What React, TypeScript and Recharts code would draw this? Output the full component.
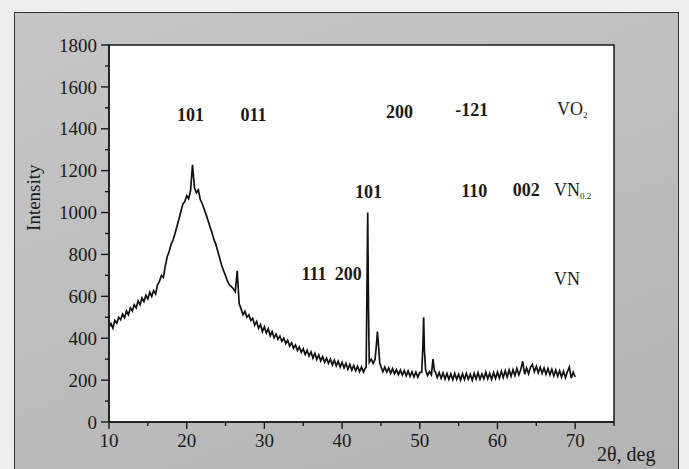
import React from "react";
import {
  CartesianGrid,
  Line,
  LineChart,
  ReferenceArea,
  ReferenceDot,
  XAxis,
  YAxis,
} from "recharts";

// XRD scan: [2theta (deg), intensity]
const xrdScan: [number, number][] = [
  [10, 452], [10.25, 470], [10.5, 448], [10.75, 485], [11, 472], [11.25, 500],
  [11.5, 488], [11.75, 515], [12, 498], [12.25, 530], [12.5, 512], [12.75, 545],
  [13, 530], [13.25, 560], [13.5, 545], [13.75, 578], [14, 560], [14.25, 592],
  [14.5, 575], [14.75, 605], [15, 588], [15.25, 620], [15.5, 600], [15.75, 628],
  [16, 612], [16.25, 655], [16.5, 672], [16.75, 700], [17, 690], [17.25, 745],
  [17.5, 790], [17.75, 815], [18, 848], [18.25, 870], [18.5, 900], [18.75, 935],
  [19, 968], [19.25, 1005], [19.5, 1040], [19.75, 1052], [20, 1080], [20.25, 1066],
  [20.5, 1105], [20.75, 1228], [21, 1118], [21.25, 1095], [21.5, 1108], [21.75, 1062],
  [22, 1042], [22.25, 1016], [22.5, 990], [22.75, 962], [23, 932], [23.25, 905],
  [23.5, 872], [23.75, 848], [24, 815], [24.25, 782], [24.5, 748], [24.75, 722],
  [25, 698], [25.25, 672], [25.5, 655], [25.75, 646], [26, 636], [26.25, 622],
  [26.5, 722], [26.75, 565], [27, 540], [27.25, 512], [27.5, 528], [27.75, 500],
  [28, 512], [28.25, 485], [28.5, 495], [28.75, 462], [29, 480], [29.25, 448],
  [29.5, 465], [29.75, 432], [30, 455], [30.25, 425], [30.5, 445], [30.75, 412],
  [31, 432], [31.25, 402], [31.5, 420], [31.75, 395], [32, 410], [32.25, 385],
  [32.5, 400], [32.75, 375], [33, 390], [33.25, 362], [33.5, 378], [33.75, 352],
  [34, 368], [34.25, 342], [34.5, 358], [34.75, 332], [35, 350], [35.25, 322],
  [35.5, 342], [35.75, 315], [36, 335], [36.25, 305], [36.5, 328], [36.75, 298],
  [37, 320], [37.25, 292], [37.5, 312], [37.75, 285], [38, 305], [38.25, 280],
  [38.5, 300], [38.75, 272], [39, 295], [39.25, 268], [39.5, 290], [39.75, 262],
  [40, 285], [40.25, 258], [40.5, 280], [40.75, 252], [41, 275], [41.25, 248],
  [41.5, 270], [41.75, 245], [42, 266], [42.25, 240], [42.5, 262], [42.75, 238],
  [43, 258], [43.1, 262], [43.2, 620], [43.3, 1000], [43.4, 540], [43.5, 285],
  [43.75, 300], [44, 280], [44.25, 300], [44.4, 360], [44.55, 432], [44.7, 360],
  [44.85, 280], [45, 265], [45.25, 240], [45.5, 262], [45.75, 238], [46, 258],
  [46.25, 232], [46.5, 255], [46.75, 230], [47, 250], [47.25, 226], [47.5, 248],
  [47.75, 224], [48, 246], [48.25, 220], [48.5, 244], [48.75, 218], [49, 240],
  [49.25, 215], [49.5, 238], [49.75, 214], [50, 236], [50.25, 238], [50.4, 360],
  [50.5, 500], [50.6, 340], [50.75, 250], [51, 222], [51.25, 240], [51.5, 225],
  [51.7, 300], [51.9, 242], [52, 240], [52.25, 212], [52.5, 236], [52.75, 208],
  [53, 234], [53.25, 205], [53.5, 232], [53.75, 204], [54, 230], [54.25, 202],
  [54.5, 232], [54.75, 204], [55, 228], [55.25, 200], [55.5, 230], [55.75, 203],
  [56, 232], [56.25, 204], [56.5, 228], [56.75, 200], [57, 232], [57.25, 205],
  [57.5, 235], [57.75, 204], [58, 230], [58.25, 206], [58.5, 238], [58.75, 206],
  [59, 232], [59.25, 204], [59.5, 236], [59.75, 208], [60, 238], [60.25, 210],
  [60.5, 242], [60.75, 212], [61, 245], [61.25, 215], [61.5, 248], [61.75, 218],
  [62, 250], [62.25, 222], [62.5, 255], [62.75, 225], [63, 250], [63.25, 290],
  [63.5, 228], [63.75, 258], [64, 230], [64.25, 262], [64.5, 275], [64.75, 240],
  [65, 265], [65.25, 235], [65.5, 262], [65.75, 232], [66, 258], [66.25, 228],
  [66.5, 255], [66.75, 225], [67, 252], [67.25, 220], [67.5, 248], [67.75, 218],
  [68, 245], [68.25, 215], [68.5, 242], [68.75, 212], [69, 240], [69.25, 262],
  [69.5, 210], [69.75, 238], [70, 215],
];

const xTicks = [10, 15, 20, 25, 30, 35, 40, 45, 50, 55, 60, 65, 70, 75];
const yTicks = [
  0, 100, 200, 300, 400, 500, 600, 700, 800, 900, 1000, 1100, 1200, 1300,
  1400, 1500, 1600, 1700, 1800,
];

// Miller indices written over the pattern
const hklLabels = [
  { text: "101", x: 20.5, y: 1467 },
  { text: "011", x: 28.6, y: 1466 },
  { text: "200", x: 47.4, y: 1479 },
  { text: "-121", x: 56.7, y: 1490 },
  { text: "101", x: 43.4, y: 1096 },
  { text: "110", x: 57.0, y: 1102 },
  { text: "002", x: 63.7, y: 1110 },
  { text: "111", x: 36.4, y: 706 },
  { text: "200", x: 40.8, y: 706 },
];

const phaseLabels = [
  { name: "VO", sub: "2", x: 67.8, y: 1495 },
  { name: "VN", sub: "0.2", x: 67.4, y: 1110 },
  { name: "VN", sub: "", x: 67.4, y: 684 },
];

const FONT = '"Liberation Serif", "Times New Roman", serif';
const INK = "#1a1a1a";

const XTick = ({ x, y, payload }: any) => {
  const major = payload.value % 10 === 0 && payload.value <= 70;
  return (
    <g>
      <line x1={x} y1={y} x2={x} y2={y + (major ? 7 : 4)} stroke={INK} strokeWidth={1.4} />
      {major && (
        <text x={x} y={y + 25} textAnchor="middle" fontSize={19} fontFamily={FONT} fill={INK}>
          {payload.value}
        </text>
      )}
    </g>
  );
};

const YTick = ({ x, y, payload }: any) => {
  const major = payload.value % 200 === 0;
  return (
    <g>
      <line x1={x - (major ? 8 : 4)} y1={y} x2={x} y2={y} stroke={INK} strokeWidth={1.4} />
      {major && (
        <text x={x - 12} y={y} dy="0.35em" textAnchor="end" fontSize={19} fontFamily={FONT} fill={INK}>
          {payload.value}
        </text>
      )}
    </g>
  );
};

const HklLabel = ({ viewBox, text }: any) => (
  <text
    x={viewBox.x + viewBox.width / 2}
    y={viewBox.y + viewBox.height / 2}
    textAnchor="middle"
    dominantBaseline="central"
    fontSize={18}
    fontWeight="bold"
    fontFamily={FONT}
    fill={INK}
  >
    {text}
  </text>
);

const PhaseLabel = ({ viewBox, name, sub }: any) => (
  <text
    x={viewBox.x}
    y={viewBox.y + viewBox.height / 2}
    dominantBaseline="central"
    fontSize={18}
    fontFamily={FONT}
    fill={INK}
  >
    {name}
    {sub && (
      <tspan fontSize={9} dy={6}>
        {sub}
      </tspan>
    )}
  </text>
);

const YTitle = ({ viewBox }: any) => {
  const cx = viewBox.x + 14;
  const cy = viewBox.y + viewBox.height * 0.405;
  return (
    <text
      x={cx}
      y={cy}
      transform={`rotate(-90, ${cx}, ${cy})`}
      textAnchor="middle"
      dominantBaseline="central"
      fontSize={19}
      fontFamily={FONT}
      fill={INK}
    >
      Intensity
    </text>
  );
};

const XTitle = ({ viewBox }: any) => (
  <text
    x={viewBox.x + viewBox.width - 17}
    y={viewBox.y + 39}
    fontSize={20}
    fontFamily={FONT}
    fill={INK}
  >
    2θ, deg
  </text>
);

const App = () => {
  const data = xrdScan.map(([x, y]) => ({ x, y }));

  return (
    <div
      style={{
        position: "fixed",
        left: 0,
        top: 0,
        width: 689,
        height: 469,
        overflow: "hidden",
        background: "#eeeeee",
      }}
    >
      <div
        style={{
          position: "absolute",
          left: 14,
          top: 12,
          width: 663,
          height: 470,
          background: "linear-gradient(160deg, #c6c6c6, #b4b4b4)",
          borderLeft: "1.5px solid #333",
          borderTop: "1.5px solid #333",
          borderRight: "1.5px solid #333",
        }}
      />
      <div style={{ position: "absolute", left: 0, top: 0 }}>
        <LineChart
          width={689}
          height={469}
          data={data}
          margin={{ top: 45, right: 75, bottom: 5, left: 20 }}
        >
          <CartesianGrid horizontal={false} vertical={false} fill="#ffffff" />
          <XAxis
            dataKey="x"
            type="number"
            domain={[10, 75]}
            ticks={xTicks}
            interval={0}
            allowDataOverflow
            height={42}
            tickLine={false}
            tickSize={0}
            tickMargin={0}
            tick={<XTick />}
            axisLine={{ stroke: INK, strokeWidth: 1.5 }}
            label={<XTitle />}
          />
          <YAxis
            type="number"
            domain={[0, 1800]}
            ticks={yTicks}
            interval={0}
            allowDataOverflow
            width={89}
            tickLine={false}
            tickSize={0}
            tickMargin={0}
            tick={<YTick />}
            axisLine={{ stroke: INK, strokeWidth: 1.5 }}
            label={<YTitle />}
          />
          <ReferenceArea
            x1={10}
            x2={75}
            y1={0}
            y2={1800}
            fill="none"
            stroke={INK}
            strokeWidth={1.5}
          />
          <Line
            type="linear"
            dataKey="y"
            stroke="#111111"
            strokeWidth={1.7}
            dot={false}
            isAnimationActive={false}
          />
          {hklLabels.map((l, i) => (
            <ReferenceDot
              key={"hkl" + i}
              x={l.x}
              y={l.y}
              r={1}
              fill="none"
              stroke="none"
              label={<HklLabel text={l.text} />}
            />
          ))}
          {phaseLabels.map((l, i) => (
            <ReferenceDot
              key={"ph" + i}
              x={l.x}
              y={l.y}
              r={1}
              fill="none"
              stroke="none"
              label={<PhaseLabel name={l.name} sub={l.sub} />}
            />
          ))}
        </LineChart>
      </div>
    </div>
  );
};

export default App;
